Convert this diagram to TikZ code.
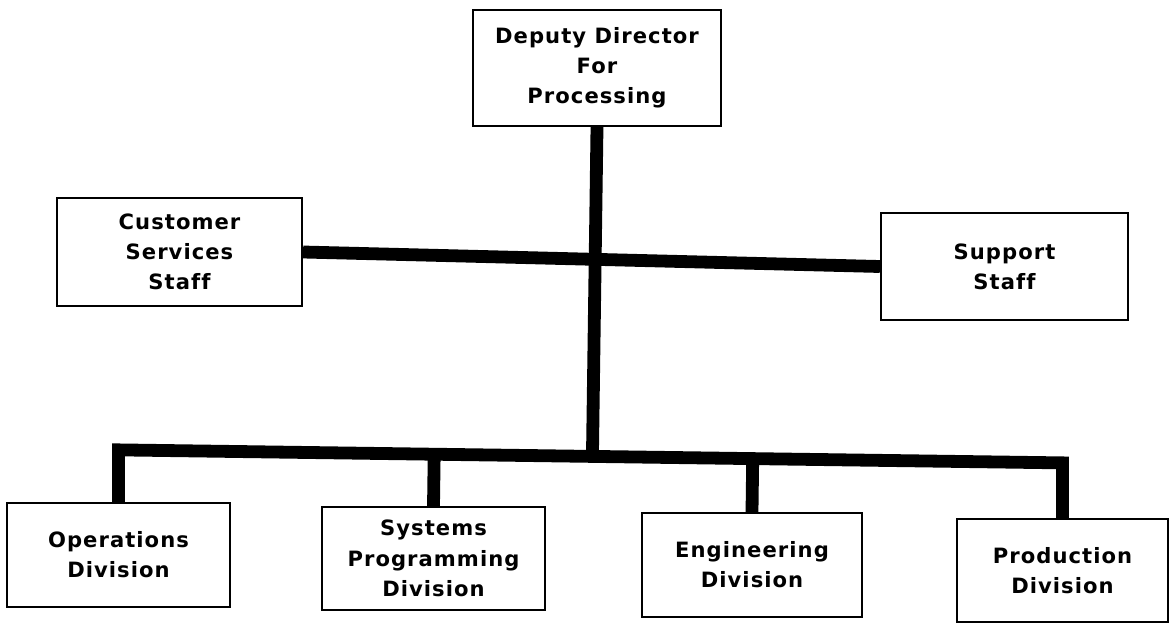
\documentclass[tikz,border=0pt]{standalone}
\usepackage{fontspec}
\usetikzlibrary{calc}
\newfontfamily\chartfont[LetterSpace=5, Ligatures=NoCommon]{DejaVu Sans}

\begin{document}
\begin{tikzpicture}[x=0.025cm, y=-0.025cm,
    box/.style={draw, line width=1.6pt, inner sep=0pt, align=center,
        font=\chartfont\bfseries\fontsize{15}{21.5}\selectfont},
    bar/.style={line width=0.32cm, line join=miter}]
    % Page
    \fill[white] (0,0) rectangle (1171,625);

    % Top box
    \node[box, minimum width=248*0.025cm, minimum height=116*0.025cm] (dep) at (597,68) {Deputy Director\\For\\Processing};

    % Staff boxes
    \node[box, minimum width=245*0.025cm, minimum height=108*0.025cm] (cust) at (179.5,252) {Customer\\Services\\Staff};
    \node[box, minimum width=247*0.025cm, minimum height=107*0.025cm] (supp) at (1004.5,266.5) {Support\\Staff};

    % Division boxes
    \foreach \n/\x/\y/\w/\h/\txt in {ops/118.5/555/223/104/{Operations\\Division},
                                     sys/433.5/558.5/223/103/{Systems\\Programming\\Division},
                                     eng/752/565/220/104/{Engineering\\Division},
                                     prod/1062.5/570.5/211/103/{Production\\Division}} {
        \node[box, minimum width=\w*0.025cm, minimum height=\h*0.025cm] (\n) at (\x,\y) {\txt};
    }

    % Bars
    \draw[bar] (cust.east) -- (supp.west);
    \coordinate (bl) at ($(ops.north)+(0,-52)$);
    \coordinate (br) at ($(prod.north)+(0,-55)$);
    \draw[bar] (ops.north) -- (bl) -- (br) -- (prod.north);
    \draw[bar] (dep.south) -- ($(bl)!(dep.south)!(br)$);
    \foreach \n in {sys,eng} {
        \draw[bar] (\n.north) -- ($(bl)!(\n.north)!(br)$);
    }
\end{tikzpicture}
\end{document}
